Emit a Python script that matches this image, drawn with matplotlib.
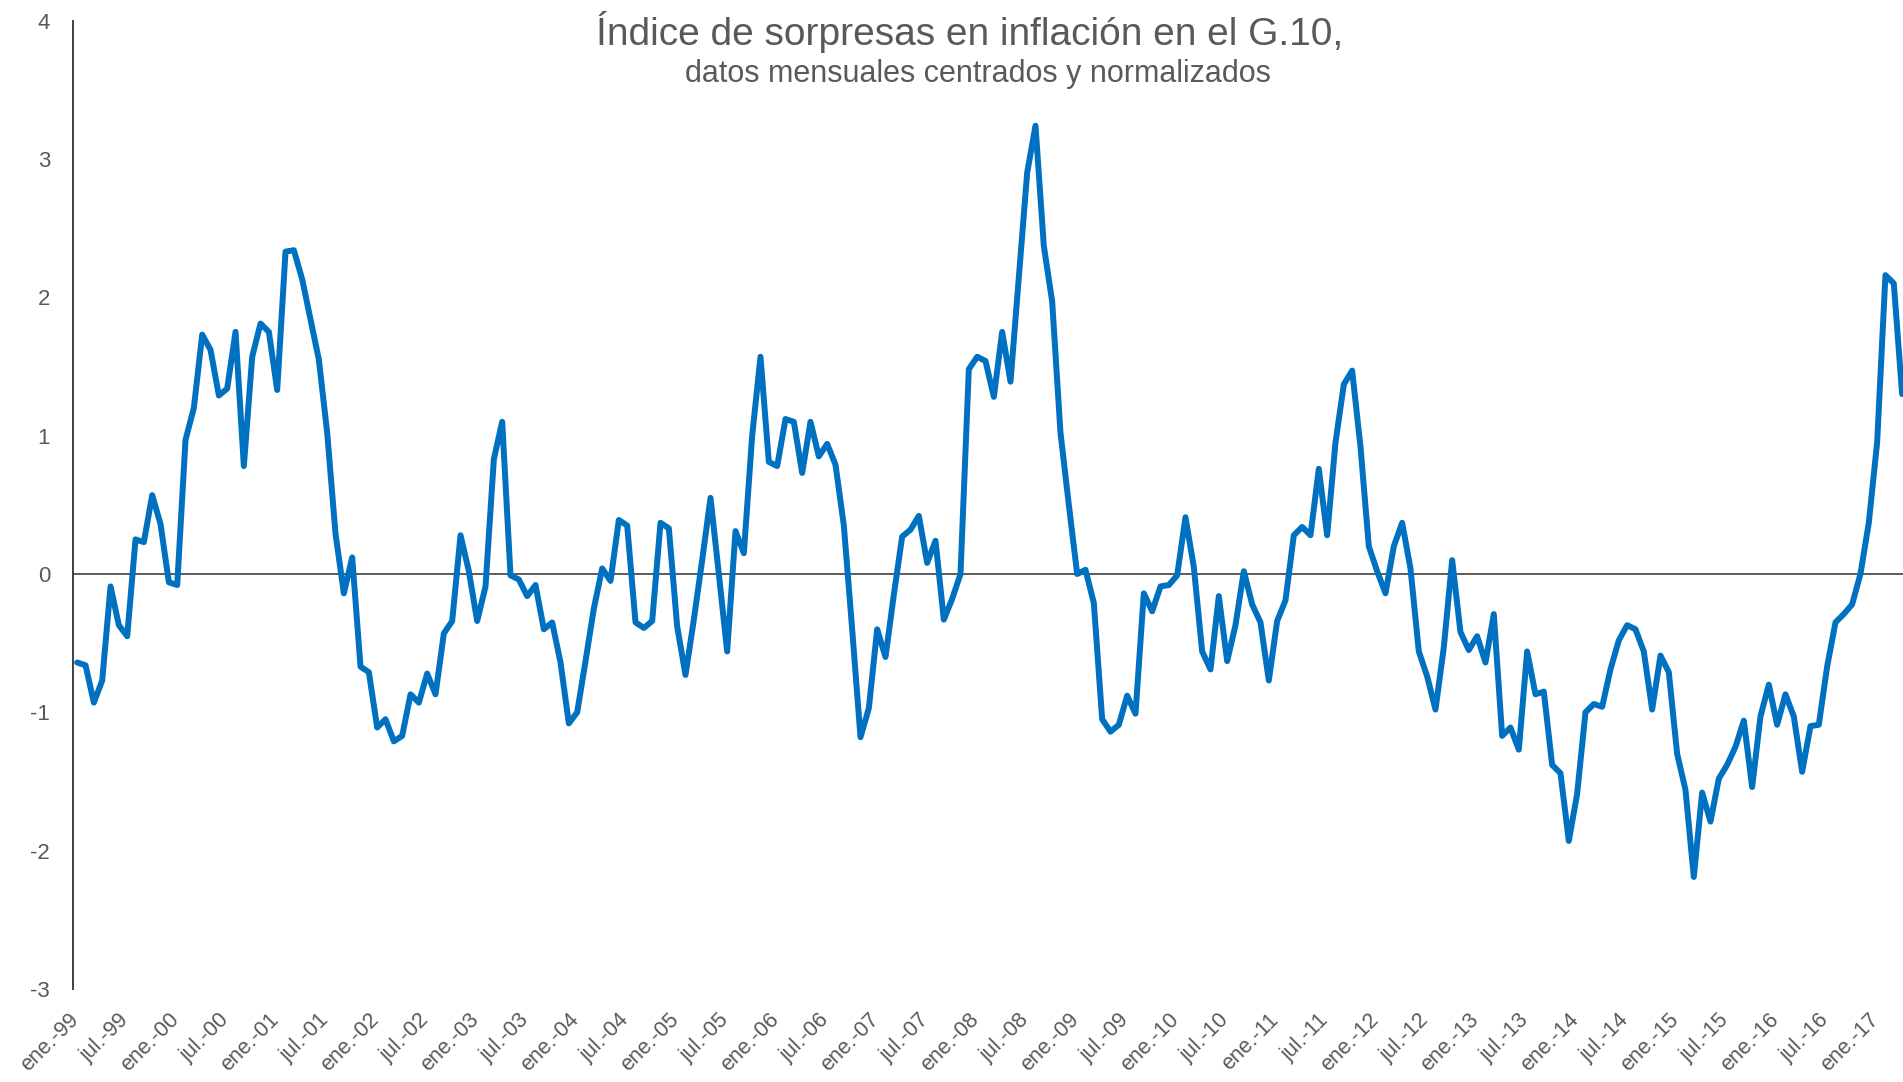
import matplotlib
matplotlib.use("Agg")
import matplotlib.pyplot as plt
from matplotlib.transforms import ScaledTranslation

# Monthly index, ene-1999 .. abr-2017
values = [
    -0.64, -0.66, -0.93, -0.77, -0.09, -0.37, -0.45, 0.25, 0.23, 0.57, 0.36, -0.06,   # 1999
    -0.08, 0.97, 1.20, 1.73, 1.62, 1.29, 1.34, 1.75, 0.78, 1.57, 1.81, 1.75,          # 2000
    1.33, 2.33, 2.34, 2.13, 1.84, 1.55, 1.02, 0.29, -0.14, 0.12, -0.67, -0.71,        # 2001
    -1.11, -1.05, -1.21, -1.17, -0.87, -0.93, -0.72, -0.87, -0.43, -0.34, 0.28, 0.02, # 2002
    -0.34, -0.09, 0.83, 1.10, -0.01, -0.04, -0.16, -0.08, -0.40, -0.35, -0.64, -1.08, # 2003
    -1.00, -0.63, -0.25, 0.04, -0.05, 0.39, 0.35, -0.35, -0.39, -0.34, 0.37, 0.33,    # 2004
    -0.38, -0.73, -0.33, 0.10, 0.55, 0.00, -0.56, 0.31, 0.15, 1.00, 1.57, 0.81,       # 2005
    0.78, 1.12, 1.10, 0.73, 1.10, 0.85, 0.94, 0.79, 0.35, -0.40, -1.18, -0.97,        # 2006
    -0.40, -0.60, -0.15, 0.27, 0.32, 0.42, 0.08, 0.24, -0.33, -0.18, 0.00, 1.48,      # 2007
    1.57, 1.54, 1.28, 1.75, 1.39, 2.15, 2.90, 3.24, 2.37, 1.97, 1.02, 0.50,           # 2008
    0.00, 0.03, -0.21, -1.05, -1.14, -1.09, -0.88, -1.01, -0.14, -0.27, -0.09, -0.08, # 2009
    -0.01, 0.41, 0.05, -0.56, -0.69, -0.16, -0.63, -0.37, 0.02, -0.22, -0.35, -0.77,  # 2010
    -0.34, -0.19, 0.28, 0.34, 0.28, 0.76, 0.28, 0.95, 1.37, 1.47, 0.92, 0.20,         # 2011
    0.02, -0.14, 0.20, 0.37, 0.04, -0.56, -0.74, -0.98, -0.53, 0.10, -0.42, -0.55,    # 2012
    -0.45, -0.64, -0.29, -1.17, -1.11, -1.27, -0.56, -0.87, -0.85, -1.38, -1.44, -1.93, # 2013
    -1.59, -1.00, -0.94, -0.96, -0.69, -0.48, -0.37, -0.40, -0.56, -0.98, -0.59, -0.71, # 2014
    -1.30, -1.56, -2.19, -1.58, -1.79, -1.48, -1.38, -1.25, -1.06, -1.54, -1.03, -0.80, # 2015
    -1.09, -0.87, -1.03, -1.43, -1.10, -1.09, -0.67, -0.35, -0.29, -0.22, 0.00, 0.37,   # 2016
    0.95, 2.16, 2.10, 1.30,                                                             # 2017
]

years = ["99", "00", "01", "02", "03", "04", "05", "06", "07", "08",
         "09", "10", "11", "12", "13", "14", "15", "16", "17"]
half_year_months = ["ene.", "jul."]
tick_labels = [f"{m}-{y}" for y in years for m in half_year_months][:-1]

title = "Índice de sorpresas en inflación en el G.10,"
subtitle = "datos mensuales centrados y normalizados"

y_ticks = [4, 3, 2, 1, 0, -1, -2, -3]

W, H = 1903, 1082
fig = plt.figure(figsize=(W / 100, H / 100), dpi=100)
fig.patch.set_facecolor("white")
plt.rcParams["font.family"] = ["Liberation Sans", "DejaVu Sans"]

left_px, right_px, top_px, bottom_px = 73, 1903, 20.6, 989
ax = fig.add_axes([left_px / W, 1 - bottom_px / H,
                   (right_px - left_px) / W, (bottom_px - top_px) / H])

x = list(range(len(values)))
ax.plot(x, values, color="#0070C0", linewidth=4.3, solid_joinstyle="round",
        solid_capstyle="round", zorder=3)
ax.axhline(0, color="#404040", linewidth=1.2, zorder=2)

month_px = 8.333
ax.set_xlim(-(77.2 - left_px) / month_px, (right_px - 77.2) / month_px)
ax.set_ylim(-3, 4)

for side in ["top", "right", "bottom"]:
    ax.spines[side].set_visible(False)
ax.spines["left"].set_color("#404040")
ax.spines["left"].set_linewidth(1.4)

text_color = "#595959"
ax.set_yticks(y_ticks)
ax.set_yticklabels([str(v) for v in y_ticks])
ax.tick_params(axis="y", length=0, pad=16.5, labelsize=16, labelcolor=text_color)

ax.set_xticks(list(range(0, 6 * len(tick_labels), 6)))
ax.set_xticklabels(tick_labels, rotation=45, ha="right", va="center",
                   rotation_mode="anchor")
ax.tick_params(axis="x", length=0, pad=20, labelsize=15.5, labelcolor=text_color)
offset = ScaledTranslation(-1.5 / 100, 0, fig.dpi_scale_trans)
for lbl in ax.get_xticklabels():
    lbl.set_transform(lbl.get_transform() + offset)

fig.text(970 / W, 1 - 32 / H, title, ha="center", va="center",
         fontsize=28, color=text_color)
fig.text(978 / W, 1 - 74 / H, subtitle, ha="center", va="center",
         fontsize=22, color=text_color)

fig.savefig("out.png", dpi=100, facecolor="white")
